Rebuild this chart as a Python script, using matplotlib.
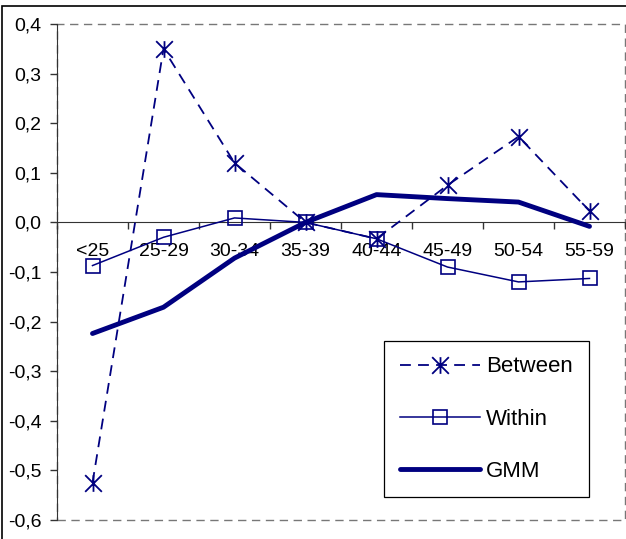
import matplotlib
matplotlib.use('Agg')
import matplotlib.pyplot as plt
import numpy as np
from matplotlib.path import Path
from matplotlib.patches import Rectangle
from matplotlib.ticker import FuncFormatter

plt.rcParams['font.family'] = ['Liberation Sans', 'DejaVu Sans']

age_groups = ['<25', '25-29', '30-34', '35-39', '40-44', '45-49', '50-54', '55-59']
between = [-0.525, 0.350, 0.120, 0.0, -0.033, 0.075, 0.173, 0.023]
within = [-0.087, -0.030, 0.009, 0.0, -0.033, -0.090, -0.120, -0.113]
gmm = [-0.224, -0.171, -0.072, 0.0, 0.056, 0.048, 0.041, -0.008]

navy = '#000080'

# asterisk like the excel one: vertical bar plus an X
star = Path([(0, -1), (0, 1), (-1, -1), (1, 1), (-1, 1), (1, -1)],
            [Path.MOVETO, Path.LINETO, Path.MOVETO, Path.LINETO, Path.MOVETO, Path.LINETO])

fig = plt.figure(figsize=(6.26, 5.39), dpi=100)
W, H = 626, 539
ax = fig.add_axes([57 / W, 1 - 520 / H, 568 / W, 496 / H])

x = np.arange(len(age_groups))

ax.plot(x, between, color=navy, lw=1.3, dashes=(6, 4), marker=star, markersize=12,
        markeredgewidth=1.3, label='Between', zorder=3)
ax.plot(x, within, color=navy, lw=1.1, marker='s', markersize=9.5, markerfacecolor='none',
        markeredgewidth=1.2, label='Within', zorder=4)
ax.plot(x, gmm, color=navy, lw=3.5, solid_capstyle='round', solid_joinstyle='round',
        label='GMM', zorder=5)

ax.set_xlim(-0.5, 7.5)
ax.set_ylim(-0.6, 0.4)

# y axis
ax.set_yticks(np.arange(-0.6, 0.41, 0.1))
ax.yaxis.set_major_formatter(FuncFormatter(lambda v, p: f'{v:.1f}'.replace('.', ',').replace('-0,0', '0,0')))
ax.tick_params(axis='y', direction='out', length=5, width=1, color='#333333', labelsize=14, pad=6)

# x axis sits on zero
ax.spines['bottom'].set_position(('data', 0))
ax.spines['bottom'].set_color('#333333')
ax.spines['left'].set_color('#333333')
ax.spines['top'].set_visible(False)
ax.spines['right'].set_visible(False)
ax.set_xticks(x, age_groups)
ax.set_xticks(np.arange(-0.5, 7.6, 1.0), minor=True)
ax.tick_params(axis='x', which='major', length=0, labelsize=14, pad=15)
ax.tick_params(axis='x', which='minor', direction='out', length=5, width=1, color='#333333')

# dashed plot-area border
ax.add_patch(Rectangle((0, 0), 1, 1, transform=ax.transAxes, fill=False, ec='#777777',
                       lw=1, ls=(0, (6, 4)), clip_on=False, zorder=1))

leg = ax.legend(loc='upper left', bbox_to_anchor=(0.5757, 0.361), borderaxespad=0, fontsize=16,
                handlelength=3.6, handletextpad=0.3, labelspacing=1.4, borderpad=0.7,
                fancybox=False, edgecolor='black', framealpha=1)
leg.get_frame().set_linewidth(0.9)
leg.set_zorder(10)

# outer chart frame
fig.patches.append(Rectangle((1.5 / W, -0.05), 1.1, 1 - 5.5 / H + 0.05, transform=fig.transFigure,
                             fill=False, ec='black', lw=1.2))

fig.savefig('out.png', dpi=100)
